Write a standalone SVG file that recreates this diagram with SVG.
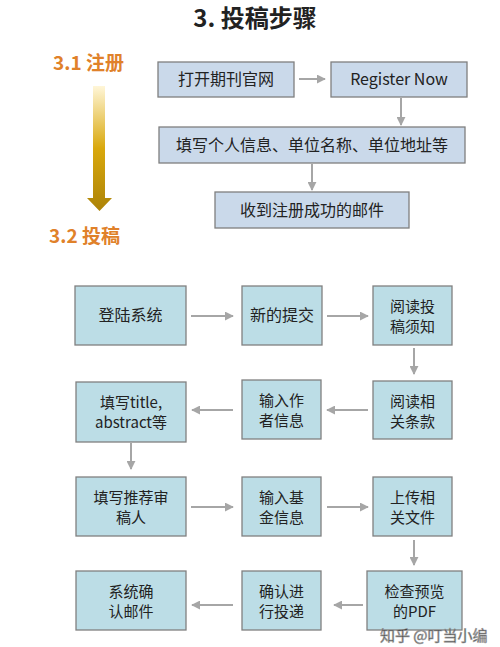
<svg xmlns="http://www.w3.org/2000/svg" width="500" height="647" viewBox="0 0 500 647">
<style>
.t{font-family:"Noto Sans CJK SC","Open Sans","Liberation Sans",sans-serif;fill:#222;}
.bt{font-size:15px;text-anchor:middle;}
.tp{font-size:16px;}
.b1{fill:#CAD9EA;stroke:#7F7F7F;stroke-width:1.3;}
.b2{fill:#BCDDE6;stroke:#808080;stroke-width:1.3;}
.c{stroke:#A6A6A6;stroke-width:2;fill:none;marker-end:url(#ah);}
.or{fill:#E0812A;font-weight:bold;font-size:19px;}
</style>
<defs>
<marker id="ah" viewBox="0 0 10 10" refX="9" refY="5" markerWidth="4.5" markerHeight="4.5" orient="auto" markerUnits="strokeWidth">
<path d="M0,0 L10,5 L0,10 z" fill="#A6A6A6"/>
</marker>
<linearGradient id="g" x1="0" y1="0" x2="0" y2="1">
<stop offset="0" stop-color="#FFF6D8"/>
<stop offset="0.5" stop-color="#D9A80C"/>
<stop offset="1" stop-color="#AC8308"/>
</linearGradient>
</defs>
<rect width="500" height="647" fill="#fff"/>
<text class="t" x="255" y="27" text-anchor="middle" font-size="24" font-weight="bold" fill="#111">3. 投稿步骤</text>
<g id="side">
<text class="t or" x="53" y="70">3.1 注册</text>
<path d="M93,86 H105 V198 H112 L99.5,211 L87,198 H93 Z" fill="url(#g)"/>
<text class="t or" x="49" y="243">3.2 投稿</text>
</g>
<g id="connectors">
<line class="c" x1="299" y1="79" x2="325" y2="79"/>
<line class="c" x1="401" y1="98" x2="401" y2="125"/>
<line class="c" x1="312" y1="164" x2="312" y2="190"/>
<line class="c" x1="191" y1="316" x2="233" y2="316"/>
<line class="c" x1="327" y1="316" x2="368" y2="316"/>
<line class="c" x1="414" y1="348" x2="414" y2="374"/>
<line class="c" x1="368" y1="410" x2="327" y2="410"/>
<line class="c" x1="233" y1="410" x2="192" y2="410"/>
<line class="c" x1="131" y1="443" x2="131" y2="469"/>
<line class="c" x1="191" y1="507" x2="233" y2="507"/>
<line class="c" x1="327" y1="507" x2="368" y2="507"/>
<line class="c" x1="414" y1="540" x2="414" y2="565"/>
<line class="c" x1="363" y1="605" x2="334" y2="605"/>
<line class="c" x1="233" y1="605" x2="192" y2="605"/>
</g>
<g id="n1"><rect class="b1" x="158" y="62" width="136" height="35"/><text class="t bt tp" x="226" y="85">打开期刊官网</text></g>
<g id="n2"><rect class="b1" x="331" y="62" width="136" height="35"/><text class="t bt tp" x="399" y="85">Register Now</text></g>
<g id="n3"><rect class="b1" x="159" y="127" width="306" height="36"/><text class="t bt tp" x="312" y="151">填写个人信息、单位名称、单位地址等</text></g>
<g id="n4"><rect class="b1" x="215" y="192" width="194" height="36"/><text class="t bt tp" x="312" y="216">收到注册成功的邮件</text></g>

<g id="s1"><rect class="b2" x="75" y="286" width="111" height="59"/><text class="t bt tp" x="130.5" y="321">登陆系统</text></g>
<g id="s2"><rect class="b2" x="242" y="286" width="80" height="59"/><text class="t bt tp" x="282" y="321">新的提交</text></g>
<g id="s3"><rect class="b2" x="373" y="286" width="79" height="59"/><text class="t bt" x="412.5" y="312">阅读投</text><text class="t bt" x="412.5" y="332">稿须知</text></g>
<g id="s4"><rect class="b2" x="373" y="381" width="79" height="58"/><text class="t bt" x="412.5" y="407">阅读相</text><text class="t bt" x="412.5" y="427">关条款</text></g>
<g id="s5"><rect class="b2" x="242" y="380" width="79" height="59"/><text class="t bt" x="281.5" y="406">输入作</text><text class="t bt" x="281.5" y="426">者信息</text></g>
<g id="s6"><rect class="b2" x="76" y="382" width="110" height="60"/><text class="t bt" x="131" y="408">填写title,</text><text class="t bt" x="131" y="428">abstract等</text></g>
<g id="s7"><rect class="b2" x="76" y="477" width="110" height="59"/><text class="t bt" x="131" y="503">填写推荐审</text><text class="t bt" x="131" y="523">稿人</text></g>
<g id="s8"><rect class="b2" x="242" y="477" width="79" height="59"/><text class="t bt" x="281.5" y="503">输入基</text><text class="t bt" x="281.5" y="523">金信息</text></g>
<g id="s9"><rect class="b2" x="373" y="477" width="79" height="59"/><text class="t bt" x="412.5" y="503">上传相</text><text class="t bt" x="412.5" y="523">关文件</text></g>
<g id="s10"><rect class="b2" x="367" y="571" width="95" height="59"/><text class="t bt" x="414.5" y="597">检查预览</text><text class="t bt" x="414.5" y="617">的PDF</text></g>
<g id="s11"><rect class="b2" x="242" y="571" width="79" height="59"/><text class="t bt" x="281.5" y="597">确认进</text><text class="t bt" x="281.5" y="617">行投递</text></g>
<g id="s12"><rect class="b2" x="76" y="571" width="110" height="59"/><text class="t bt" x="131" y="597">系统确</text><text class="t bt" x="131" y="617">认邮件</text></g>
<text class="t" x="380" y="641" font-size="15" fill="#fff" stroke="#9a9a9a" stroke-width="0.6" opacity="0.9">知乎 @叮当小编</text>
</svg>
